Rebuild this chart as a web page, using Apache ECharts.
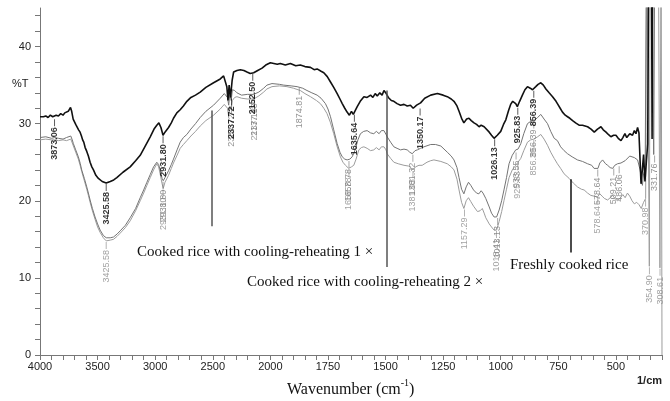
<!DOCTYPE html>
<html>
<head>
<meta charset="utf-8">
<script src="https://cdn.jsdelivr.net/npm/echarts@6.0.0/dist/echarts.min.js"></script>
<style>
  html, body { margin: 0; padding: 0; background: #fff; }
  #chart { width: 670px; height: 401px; }
</style>
</head>
<body>
<div id="chart"></div>
<script>
/**************
 * FTIR data  *
 *************/
// Freshly cooked rice (black)
var BLACK_WN = [4000, 3970, 3950, 3930, 3910, 3890, 3873, 3860, 3840, 3820, 3800, 3785, 3770, 3755, 3745, 3735, 3725, 3712, 3700, 3690, 3680, 3665, 3652, 3640, 3630, 3620, 3608, 3594, 3580, 3565, 3550, 3536, 3515, 3493, 3460, 3425, 3390, 3360, 3333, 3280, 3217, 3170, 3130, 3090, 3043, 3010, 2986, 2968, 2950, 2932, 2915, 2884, 2860, 2841, 2812, 2783, 2755, 2725, 2690, 2650, 2609, 2560, 2493, 2435, 2406, 2390, 2378, 2368, 2358, 2346, 2332, 2319, 2290, 2261, 2230, 2203, 2175, 2145, 2110, 2072, 2040, 2000, 1970, 1957, 1935, 1913, 1890, 1870, 1850, 1826, 1810, 1797, 1780, 1768, 1753, 1739, 1725, 1710, 1698, 1688, 1677, 1667, 1657, 1648, 1640, 1632, 1623, 1610, 1594, 1580, 1565, 1555, 1545, 1536, 1525, 1515, 1507, 1497, 1488, 1475, 1464, 1450, 1435, 1420, 1406, 1392, 1380, 1365, 1348, 1330, 1304, 1275, 1250, 1232, 1215, 1203, 1190, 1181, 1170, 1160, 1148, 1138, 1128, 1116, 1105, 1094, 1085, 1080, 1072, 1065, 1050, 1040, 1029, 1015, 1000, 988, 978, 966, 957, 948, 942, 935, 928, 918, 906, 895, 884, 872, 862, 855, 848, 838, 826, 815, 804, 790, 775, 760, 754, 742, 732, 720, 710, 700, 688, 675, 660, 645, 623, 608, 594, 580, 565, 555, 543, 533, 522, 510, 500, 490, 478, 470, 461, 453, 446, 440, 435, 428, 420, 413, 406, 400, 391, 386, 380, 374, 368, 362, 357, 346, 343, 340, 300];
var BLACK_T = [30.9, 30.9, 31.0, 30.8, 31.1, 30.9, 30.7, 31.1, 31.0, 31.3, 31.1, 31.4, 31.2, 31.6, 31.4, 32.1, 31.6, 30.6, 30.8, 29.9, 30.1, 29.2, 28.9, 28.4, 27.9, 27.6, 26.9, 26.4, 25.8, 25.0, 24.4, 24.0, 23.3, 22.9, 22.5, 22.3, 22.5, 22.7, 23.0, 23.7, 24.4, 25.2, 25.9, 27.0, 28.3, 29.3, 29.8, 30.1, 29.5, 28.5, 28.9, 29.5, 30.1, 30.7, 31.4, 31.8, 32.3, 32.9, 33.4, 33.7, 34.1, 34.7, 35.3, 35.8, 36.2, 36.3, 34.8, 33.0, 35.0, 33.4, 35.6, 36.7, 36.9, 37.0, 36.9, 36.7, 36.5, 36.6, 36.9, 37.2, 37.6, 37.9, 37.7, 37.8, 37.6, 37.8, 37.5, 37.6, 37.4, 37.3, 37.0, 37.1, 36.8, 36.6, 36.1, 35.4, 34.7, 33.9, 33.2, 32.6, 32.0, 31.5, 31.1, 31.6, 31.2, 31.4, 32.2, 32.9, 33.5, 33.4, 33.7, 33.4, 33.9, 33.6, 34.0, 33.7, 34.3, 33.9, 33.4, 33.0, 32.9, 32.6, 32.4, 32.5, 32.3, 32.4, 32.0, 32.4, 32.7, 33.3, 33.7, 33.9, 33.7, 33.5, 33.2, 32.9, 32.3, 31.6, 30.7, 30.1, 30.6, 30.7, 30.4, 30.1, 29.9, 29.6, 29.8, 30.0, 29.6, 29.4, 28.9, 28.5, 28.1, 28.5, 29.0, 29.9, 30.5, 31.7, 32.5, 32.9, 33.0, 32.6, 32.2, 32.9, 33.7, 34.4, 34.8, 34.6, 34.4, 34.5, 34.8, 35.1, 35.3, 35.0, 34.5, 34.0, 33.5, 32.9, 32.6, 32.0, 31.5, 31.1, 30.9, 30.7, 30.4, 30.1, 29.8, 29.8, 29.6, 29.3, 28.9, 29.3, 29.6, 29.2, 28.9, 28.6, 28.3, 28.5, 28.5, 28.1, 27.8, 28.2, 28.7, 28.2, 28.3, 28.7, 28.9, 28.5, 29.1, 28.7, 29.5, 28.8, 22.2, 23.8, 26.0, 22.5, 25.0, 27.4, 55, 55, 28.0, 55, 55];

// Cooked rice with cooling-reheating 1x (dark grey)
var REHEAT1_WN = [4000, 3950, 3900, 3873, 3840, 3800, 3770, 3753, 3733, 3720, 3710, 3690, 3667, 3650, 3638, 3615, 3594, 3580, 3565, 3545, 3522, 3500, 3478, 3450, 3425, 3390, 3362, 3330, 3304, 3260, 3217, 3170, 3130, 3100, 3072, 3043, 3014, 2986, 2970, 2957, 2940, 2930, 2915, 2884, 2860, 2841, 2810, 2783, 2755, 2725, 2690, 2650, 2609, 2560, 2493, 2435, 2400, 2385, 2372, 2362, 2352, 2340, 2330, 2310, 2290, 2250, 2200, 2145, 2100, 2058, 2030, 1993, 1960, 1942, 1910, 1884, 1860, 1841, 1820, 1797, 1780, 1761, 1750, 1739, 1725, 1710, 1698, 1688, 1677, 1667, 1655, 1645, 1637, 1630, 1620, 1609, 1595, 1580, 1565, 1551, 1540, 1528, 1518, 1507, 1498, 1493, 1478, 1464, 1450, 1435, 1420, 1406, 1395, 1384, 1372, 1362, 1348, 1333, 1304, 1283, 1260, 1232, 1215, 1203, 1190, 1181, 1170, 1160, 1150, 1140, 1130, 1118, 1105, 1095, 1085, 1077, 1065, 1050, 1040, 1029, 1018, 1007, 996, 986, 975, 964, 950, 935, 925, 913, 900, 884, 870, 855, 840, 826, 812, 797, 783, 768, 754, 740, 725, 710, 690, 667, 645, 623, 605, 595, 587, 578, 570, 558, 545, 536, 525, 514, 505, 493, 486, 478, 460, 440, 420, 406, 395, 385, 380, 373, 367, 345, 336, 331, 300];
var REHEAT1_T = [28.2, 28.3, 28.1, 28.2, 28.1, 28.0, 28.2, 28.0, 28.4, 27.9, 27.4, 26.6, 25.7, 24.8, 24.0, 22.9, 21.8, 21.0, 20.1, 19.0, 17.9, 17.0, 16.2, 15.5, 15.2, 15.2, 15.3, 15.7, 16.1, 16.8, 17.8, 19.0, 20.4, 21.4, 22.4, 23.4, 24.4, 25.0, 24.7, 24.0, 22.9, 22.6, 23.0, 23.9, 24.7, 25.4, 26.6, 27.6, 28.2, 28.6, 29.3, 30.0, 30.8, 31.6, 32.4, 33.3, 33.9, 34.1, 33.4, 32.4, 33.8, 33.0, 34.4, 34.3, 34.0, 33.7, 33.8, 33.8, 34.1, 34.6, 35.0, 35.2, 35.1, 35.0, 34.9, 34.8, 34.6, 34.3, 34.0, 33.7, 33.3, 32.6, 31.9, 30.9, 29.2, 27.4, 26.3, 25.7, 25.4, 25.3, 25.4, 25.7, 26.2, 26.8, 27.9, 28.7, 29.0, 29.1, 28.8, 28.7, 29.0, 28.7, 29.1, 29.1, 28.6, 28.3, 27.6, 27.0, 26.8, 26.6, 26.7, 26.6, 26.3, 26.1, 26.5, 26.6, 26.8, 27.0, 27.3, 27.3, 27.1, 26.3, 25.8, 25.3, 24.3, 23.0, 21.5, 20.9, 21.8, 22.4, 22.0, 21.4, 21.0, 20.9, 21.3, 21.0, 20.3, 19.2, 18.4, 17.9, 17.9, 18.8, 20.0, 21.4, 23.0, 24.8, 25.9, 26.6, 26.7, 27.4, 28.7, 30.0, 30.3, 30.4, 30.8, 31.2, 30.6, 30.0, 29.0, 28.1, 27.8, 27.0, 26.5, 26.1, 25.7, 25.3, 25.1, 24.8, 24.6, 24.2, 24.2, 24.2, 24.9, 25.3, 24.8, 24.6, 24.3, 24.2, 24.6, 24.8, 24.6, 24.9, 25.2, 25.8, 25.6, 25.3, 24.0, 22.0, 23.5, 24.0, 55, 55, 26.0, 55, 55];

// Cooked rice with cooling-reheating 2x (light grey)
var REHEAT2_WN = [4000, 3950, 3900, 3873, 3840, 3800, 3770, 3753, 3733, 3720, 3710, 3690, 3667, 3650, 3638, 3615, 3594, 3580, 3565, 3545, 3522, 3500, 3478, 3450, 3425, 3390, 3362, 3330, 3304, 3260, 3217, 3170, 3130, 3100, 3072, 3043, 3014, 2986, 2970, 2957, 2940, 2930, 2915, 2884, 2860, 2841, 2810, 2783, 2755, 2725, 2690, 2650, 2609, 2560, 2493, 2435, 2400, 2385, 2372, 2362, 2352, 2340, 2330, 2310, 2290, 2250, 2200, 2145, 2100, 2058, 2030, 1993, 1960, 1928, 1900, 1870, 1850, 1826, 1800, 1783, 1768, 1754, 1740, 1725, 1710, 1696, 1685, 1674, 1660, 1648, 1638, 1628, 1616, 1605, 1594, 1580, 1565, 1551, 1540, 1528, 1518, 1507, 1498, 1493, 1478, 1464, 1445, 1420, 1400, 1390, 1381, 1370, 1355, 1341, 1320, 1304, 1290, 1260, 1232, 1215, 1203, 1190, 1181, 1170, 1160, 1150, 1140, 1130, 1118, 1101, 1090, 1080, 1072, 1065, 1050, 1040, 1029, 1018, 1007, 996, 986, 975, 964, 950, 935, 925, 913, 900, 884, 870, 856, 840, 826, 812, 797, 783, 768, 754, 740, 725, 703, 685, 667, 650, 638, 623, 609, 595, 580, 570, 560, 550, 536, 525, 514, 505, 493, 480, 470, 460, 450, 440, 430, 420, 410, 400, 390, 380, 371, 366, 360, 355, 351, 316, 309, 304, 301, 300];
var REHEAT2_T = [27.9, 28.0, 27.9, 27.9, 27.8, 27.9, 27.8, 27.7, 28.0, 27.5, 27.1, 26.3, 25.4, 24.5, 23.8, 22.6, 21.5, 20.7, 19.8, 18.7, 17.6, 16.6, 15.9, 15.2, 14.8, 14.9, 15.0, 15.4, 15.8, 16.5, 17.4, 18.7, 20.0, 21.0, 22.0, 23.0, 24.0, 24.8, 24.4, 23.5, 22.2, 21.6, 22.4, 23.3, 24.2, 24.9, 25.9, 26.8, 27.3, 27.8, 28.4, 29.0, 29.7, 30.4, 31.1, 31.9, 32.5, 32.7, 32.0, 30.9, 32.3, 31.8, 33.0, 33.4, 33.5, 33.3, 33.2, 33.2, 33.6, 34.1, 34.5, 34.8, 34.9, 34.8, 34.6, 34.3, 33.9, 33.5, 33.0, 32.6, 32.0, 31.3, 30.2, 28.7, 27.0, 25.7, 25.0, 24.6, 24.2, 24.4, 24.6, 25.4, 26.6, 26.9, 27.0, 26.8, 26.5, 26.6, 26.9, 26.6, 27.0, 27.0, 26.6, 26.1, 25.5, 25.0, 24.8, 24.6, 24.5, 24.3, 24.0, 24.4, 24.6, 24.6, 25.0, 25.2, 25.3, 25.1, 24.8, 24.4, 24.0, 22.8, 21.4, 19.8, 19.0, 20.0, 20.4, 19.9, 19.3, 18.6, 18.7, 19.0, 18.4, 17.8, 17.0, 16.6, 16.2, 16.2, 17.3, 18.6, 20.0, 21.5, 23.0, 24.0, 24.6, 25.0, 25.5, 26.5, 27.6, 27.9, 28.0, 28.3, 28.6, 28.0, 27.2, 26.3, 25.5, 24.8, 24.2, 23.5, 22.9, 22.3, 21.8, 21.5, 21.4, 21.0, 20.7, 20.6, 20.5, 20.9, 20.6, 20.3, 20.1, 20.4, 20.7, 20.3, 20.0, 20.4, 20.8, 20.4, 21.0, 20.6, 20.0, 19.6, 19.8, 19.5, 19.0, 19.8, 20.3, 55, 55, 11.5, 55, 55, 11.3, 55, 55, 0];

// peak labels (wavenumber, %T at the peak)
var BLACK_PEAK_WN = [3873.06, 3425.58, 2931.80, 2337.72, 2152.50, 1635.64, 1350.17, 1026.13, 925.83, 856.39];
var BLACK_PEAK_T = [30.7, 22.3, 28.5, 33.4, 36.6, 31.3, 32.1, 28.1, 32.2, 34.4];
var REHEAT1_PEAK_WN = [2931.80, 2337.72, 2137.13, 1874.81, 1658.78, 1381.32, 1013.13, 933.55, 856.39, 578.64, 509.21, 486.06, 331.76];
var REHEAT1_PEAK_T = [22.6, 32.4, 33.8, 34.8, 25.3, 26.1, 17.9, 26.4, 30.4, 24.2, 24.3, 24.6, 26.0];
var REHEAT2_PEAK_WN = [3425.58, 2931.80, 2137.13, 1658.78, 1381.03, 1157.29, 1018.41, 925.83, 856.39, 578.64, 370.98, 354.90, 308.61];
var REHEAT2_PEAK_T = [14.8, 21.6, 33.2, 24.2, 24.0, 19.0, 16.2, 25.0, 28.0, 20.5, 20.3, 11.5, 11.3];

// axis ticks
var X_TICK_LABELS = [4000, 3500, 3000, 2500, 2000, 1750, 1500, 1250, 1000, 750, 500];
var Y_TICK_LABELS = [0, 10, 20, 30, 40];

// pointer lines for the sample names: wavenumber, %T top, %T bottom
var POINTER_WN = [2510, 1493, 698];
var POINTER_TOP = [31.7, 34.3, 22.8];
var POINTER_BOTTOM = [16.7, 11.4, 13.3];

// x scale: 4000-2000 at half the scale of 2000-300 (Shimadzu style)
function toP(w) {
    return w >= 2000 ? 4000 - w : 2000 + 2 * (2000 - w);
}
function toW(p) {
    return p <= 2000 ? 4000 - p : 2000 - (p - 2000) / 2;
}

var xTicks = [];
for (var p = 0; p <= 5400; p += 100) xTicks.push(p);
var yTicks = [];
for (var t = 0; t <= 44; t += 2) yTicks.push(t);

function curve(wn, tv) {
    return wn.map(function (w, i) { return [toP(w), tv[i]]; });
}
function peaks(wn, tv) {
    return wn.map(function (w, i) { return { value: [toP(w), tv[i]], name: w.toFixed(2) }; });
}
function peakSeries(wn, tv, color, bold) {
    return {
        type: 'scatter',
        silent: true,
        z: 5,
        symbol: 'rect',
        symbolSize: [0.8, 7],
        symbolOffset: [0, 4.5],
        itemStyle: { color: color },
        label: {
            show: true,
            formatter: '{b}',
            position: 'bottom',
            distance: 1,
            rotate: 90,
            align: 'right',
            verticalAlign: 'middle',
            fontSize: 9,
            fontFamily: 'Liberation Sans',
            fontWeight: bold ? 'bold' : 'normal',
            color: color
        },
        data: peaks(wn, tv)
    };
}

var pointerLines = POINTER_WN.map(function (w, i) {
    return [{ coord: [toP(w), POINTER_TOP[i]], lineStyle: { color: i == 2 ? '#111' : '#555' } },
            { coord: [toP(w), POINTER_BOTTOM[i]] }];
});

var myChart = echarts.init(document.getElementById('chart'));
var option = {
    animation: false,
    backgroundColor: '#fff',
    grid: { left: 40, right: 8, top: 8, bottom: 46 },
    xAxis: {
        type: 'value',
        min: 0,
        max: 5400,
        axisLine: { lineStyle: { color: '#777', width: 1 } },
        axisTick: { customValues: xTicks, length: 5, lineStyle: { color: '#777' } },
        axisLabel: {
            customValues: X_TICK_LABELS.map(toP),
            formatter: function (v) { return String(Math.round(toW(v))); },
            color: '#222',
            fontSize: 11,
            fontFamily: 'Liberation Sans',
            margin: 6
        },
        splitLine: { show: false }
    },
    yAxis: {
        type: 'value',
        min: 0,
        max: 45,
        axisLine: { show: true, lineStyle: { color: '#777', width: 1 } },
        axisTick: { show: true, customValues: yTicks, length: 5, lineStyle: { color: '#777' } },
        axisLabel: {
            customValues: Y_TICK_LABELS,
            color: '#222',
            fontSize: 11,
            fontFamily: 'Liberation Sans',
            margin: 9
        },
        splitLine: { show: false }
    },
    series: [{
        name: 'Cooked rice with cooling-reheating 2 ×',
        type: 'line',
        symbol: 'none',
        clip: true,
        lineStyle: { color: '#9c9c9c', width: 1 },
        data: curve(REHEAT2_WN, REHEAT2_T)
    }, {
        name: 'Cooked rice with cooling-reheating 1 ×',
        type: 'line',
        symbol: 'none',
        clip: true,
        lineStyle: { color: '#747474', width: 1 },
        data: curve(REHEAT1_WN, REHEAT1_T)
    }, {
        name: 'Freshly cooked rice',
        type: 'line',
        symbol: 'none',
        clip: true,
        lineStyle: { color: '#111', width: 1.6 },
        data: curve(BLACK_WN, BLACK_T),
        markLine: {
            silent: true,
            symbol: 'none',
            label: { show: false },
            lineStyle: { type: 'solid', width: 1.5 },
            data: pointerLines
        }
    },
        peakSeries(REHEAT2_PEAK_WN, REHEAT2_PEAK_T, '#8a8a8a', false),
        peakSeries(REHEAT1_PEAK_WN, REHEAT1_PEAK_T, '#777', false),
        peakSeries(BLACK_PEAK_WN, BLACK_PEAK_T, '#000', true)
    ],
    graphic: [
        { type: 'text', left: 12, top: 78, style: { text: '%T', font: '11px "Liberation Sans"', fill: '#222' } },
        { type: 'text', left: 637, top: 375, style: { text: '1/cm', font: 'bold 11px "Liberation Sans"', fill: '#222' } },
        { type: 'text', left: 137, top: 245, style: { text: 'Cooked rice with cooling-reheating 1 ×', font: '15px "Liberation Serif"', fill: '#111' } },
        { type: 'text', left: 247, top: 275, style: { text: 'Cooked rice with cooling-reheating 2 ×', font: '15px "Liberation Serif"', fill: '#111' } },
        { type: 'text', left: 510, top: 258, style: { text: 'Freshly cooked rice', font: '15px "Liberation Serif"', fill: '#111' } },
        {
            type: 'text', left: 287, top: 378,
            style: {
                text: '{a|Wavenumber (cm}{s|-1}{a|)}',
                rich: {
                    a: { fontSize: 16, fontFamily: 'Liberation Serif', fill: '#111', lineHeight: 20, verticalAlign: 'bottom' },
                    s: { fontSize: 10, fontFamily: 'Liberation Serif', fill: '#111', lineHeight: 12, verticalAlign: 'top' }
                }
            }
        }
    ]
};
myChart.setOption(option, true);
</script>
</body>
</html>
